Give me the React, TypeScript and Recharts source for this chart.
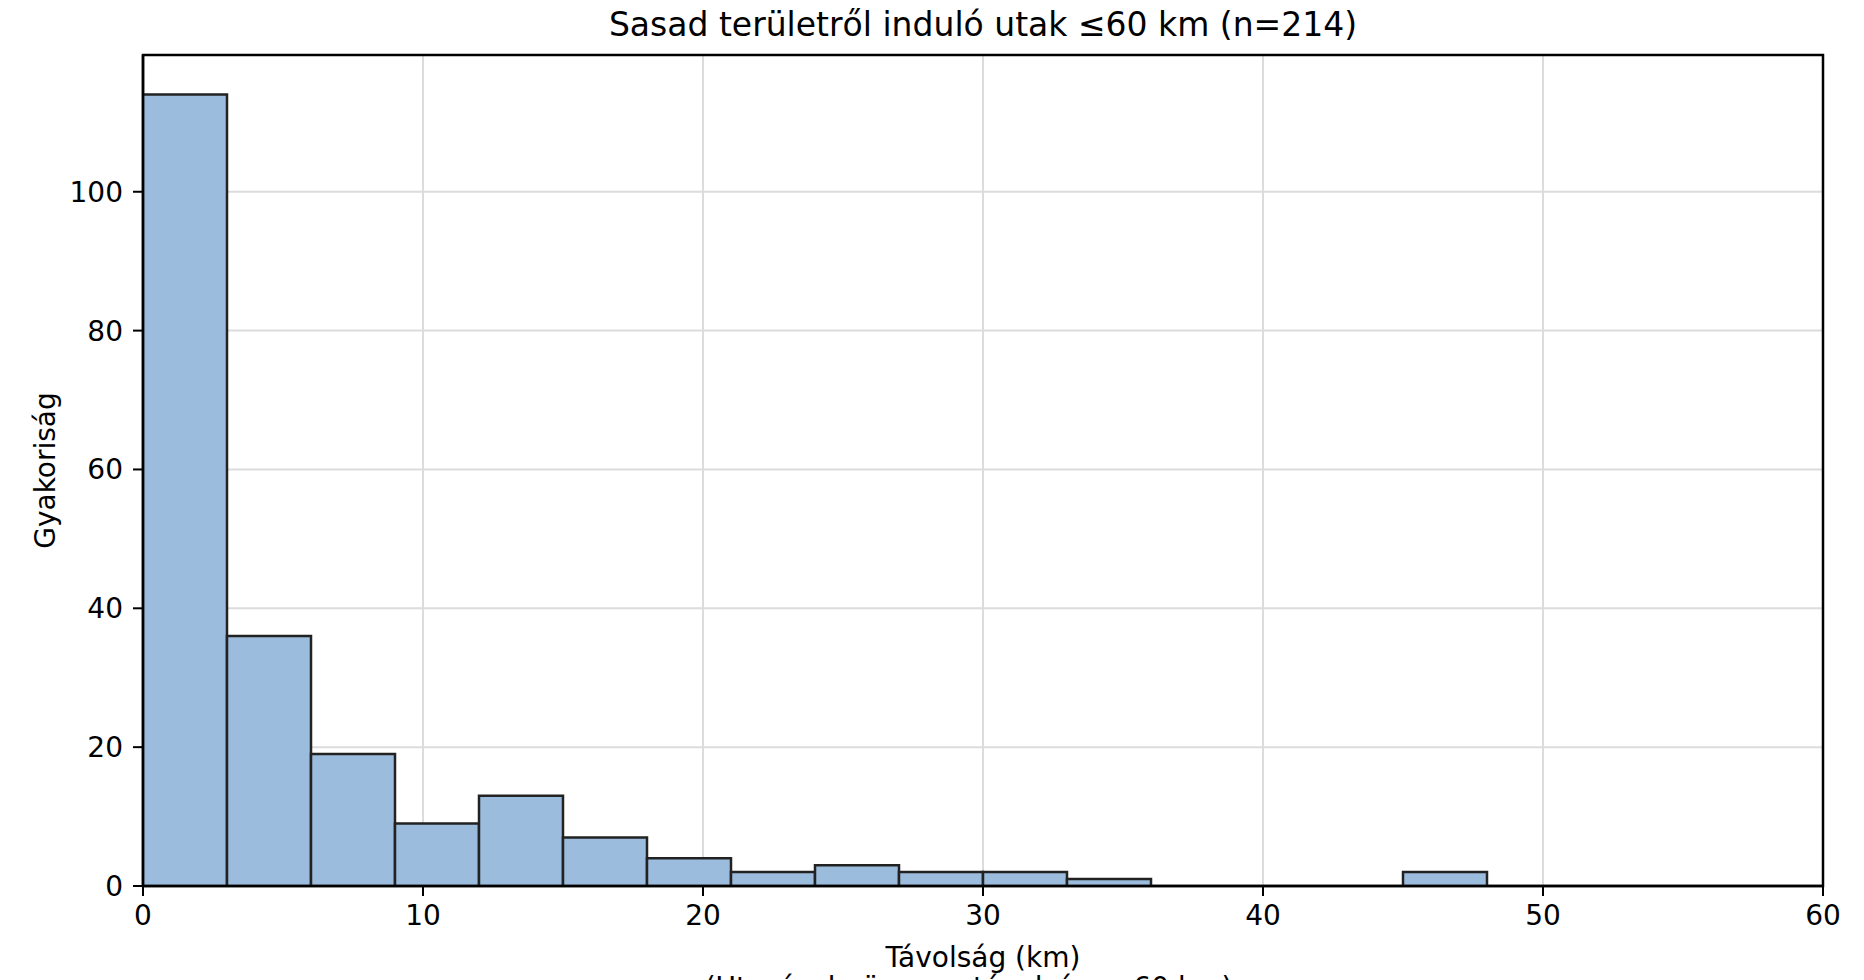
import React from 'react';
import { ComposedChart, Bar, XAxis, YAxis, CartesianGrid, Label, ReferenceArea } from 'recharts';

// Histogram bins (3 km wide) from 0 to 60 km
const binStarts: number[] = [0, 3, 6, 9, 12, 15, 18, 21, 24, 27, 30, 33, 36, 39, 42, 45, 48, 51, 54, 57];
const binWidth = 3;
const counts: number[] = [114, 36, 19, 9, 13, 7, 4, 2, 3, 2, 2, 1, 0, 0, 0, 2, 0, 0, 0, 0];
const xTicks: number[] = [0, 10, 20, 30, 40, 50, 60];
const yTicks: number[] = [0, 20, 40, 60, 80, 100];
const xDomain: [number, number] = [0, 60];
const yDomain: [number, number] = [0, 119.7];

const titleText = 'Sasad területről induló utak ≤60 km (n=214)';
const xLabel = 'Távolság (km)';
const yLabel = 'Gyakoriság';
const footText = '(Utazások: összes, távolság ≤ 60 km)';

const data = binStarts.map((s, i) => ({ mid: s + binWidth / 2, count: counts[i] }));

const FONT = 'DejaVu Sans, sans-serif';

export default function App() {
  return (
    <div style={{ position: 'absolute', left: 0, top: 0, width: 1864, height: 980, background: '#fff', overflow: 'hidden', fontFamily: FONT }}>
      <div style={{ position: 'absolute', left: 0, width: 1966, top: 5, textAlign: 'center', fontSize: 33, color: '#000', lineHeight: '40px', whiteSpace: 'nowrap' }}>
        {titleText}
      </div>
      <div style={{ position: 'absolute', left: 0, width: 1937, top: 971, textAlign: 'center', fontSize: 28, color: '#000', lineHeight: '34px', whiteSpace: 'nowrap' }}>
        {footText}
      </div>
      <div style={{ position: 'absolute', left: 0, top: 0 }}>
        <ComposedChart
          width={1864}
          height={980}
          data={data}
          margin={{ top: 55, right: 41, left: 0, bottom: 0 }}
          barCategoryGap={0}
          barGap={0}
        >
          <CartesianGrid stroke="#dcdcdc" strokeWidth={2} />
          <XAxis
            dataKey="mid"
            type="number"
            domain={xDomain}
            ticks={xTicks}
            allowDataOverflow
            height={94}
            tickLine={{ stroke: '#000', strokeWidth: 2 }}
            axisLine={{ stroke: '#000', strokeWidth: 2.5 }}
            tickSize={10}
            tickMargin={9}
            tick={{ fill: '#000', fontSize: 28, fontFamily: FONT }}
          >
            <Label
              content={(props: any) => {
                const vb = props.viewBox || {};
                return (
                  <text x={vb.x + vb.width / 2} y={967} textAnchor="middle" fontSize={28} fontFamily={FONT} fill="#000">
                    {xLabel}
                  </text>
                );
              }}
            />
          </XAxis>
          <YAxis
            type="number"
            domain={yDomain}
            ticks={yTicks}
            allowDataOverflow
            width={143}
            tickLine={{ stroke: '#000', strokeWidth: 2 }}
            axisLine={{ stroke: '#000', strokeWidth: 2.5 }}
            tickSize={10}
            tickMargin={10}
            tick={{ fill: '#000', fontSize: 28, fontFamily: FONT }}
          >
            <Label
              content={(props: any) => {
                const vb = props.viewBox || {};
                const cy = vb.y + vb.height / 2;
                return (
                  <text
                    x={45}
                    y={cy}
                    transform={`rotate(-90, 45, ${cy})`}
                    textAnchor="middle"
                    dominantBaseline="central"
                    fontSize={28}
                    fontFamily={FONT}
                    fill="#000"
                  >
                    {yLabel}
                  </text>
                );
              }}
            />
          </YAxis>
          <Bar
            dataKey="count"
            fill="#9bbcdd"
            stroke="#222222"
            strokeWidth={2.5}
            isAnimationActive={false}
          />
          <ReferenceArea
            x1={xDomain[0]}
            x2={xDomain[1]}
            y1={yDomain[0]}
            y2={yDomain[1]}
            fill="none"
            fillOpacity={0}
            stroke="#000"
            strokeWidth={2.5}
            ifOverflow="visible"
          />
        </ComposedChart>
      </div>
    </div>
  );
}
